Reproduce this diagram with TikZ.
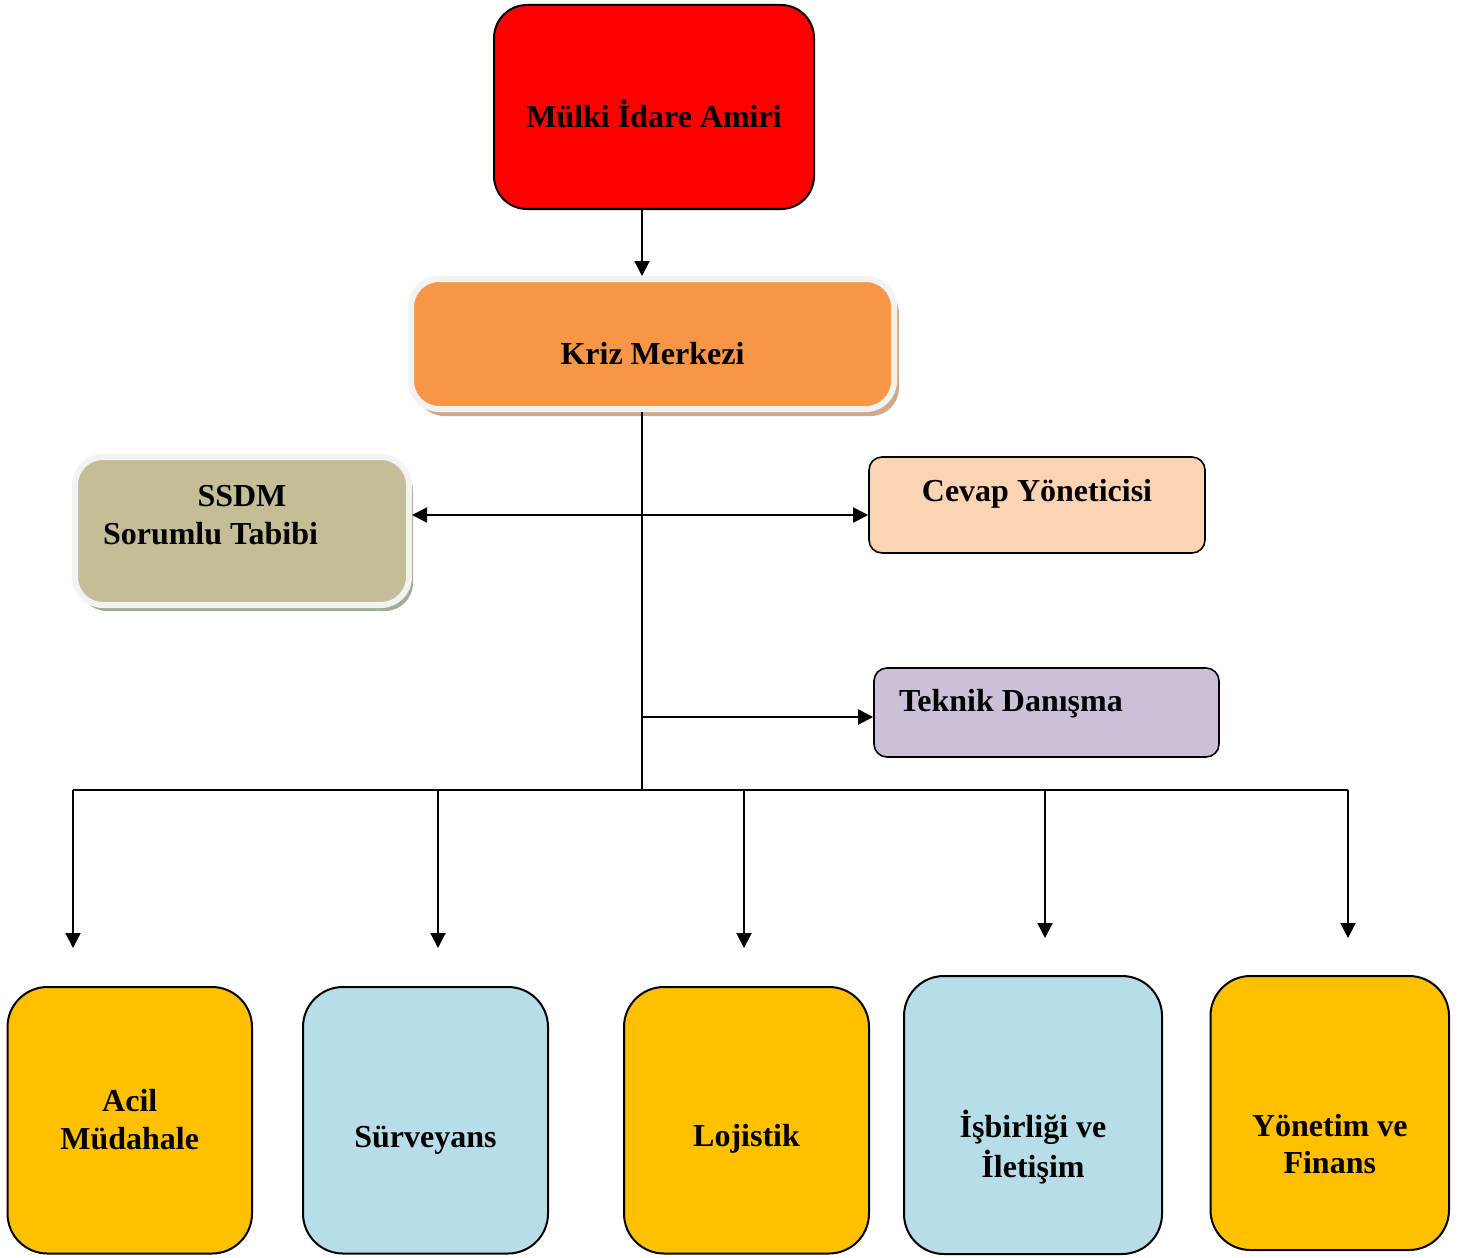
\documentclass[tikz,border=0pt]{standalone}
\usepackage{fontspec}
\setmainfont{Liberation Serif}
\usetikzlibrary{arrows.meta,shadows}

\definecolor{amirred}{HTML}{FF0000}
\definecolor{krizorange}{HTML}{F79646}
\definecolor{krizshadow}{HTML}{D3A888}
\definecolor{ssdmtan}{HTML}{C4BD97}
\definecolor{ssdmshadow}{HTML}{A3AE90}
\definecolor{framegray}{HTML}{F2F2F2}
\definecolor{cevappeach}{HTML}{FBD4B4}
\definecolor{teknikliliac}{HTML}{CCC0D9}
\definecolor{unitgold}{HTML}{FFC000}
\definecolor{unitblue}{HTML}{B7DDE8}

% text placed in a fixed box: width, height, baseline from top, text
\newcommand{\boxtext}[4]{%
  \parbox[c][#2][t]{#1}{\vspace*{\dimexpr#3-\ht\strutbox\relax}\centering\strut#4}}

\tikzset{
  card/.style={draw=black, line width=1pt, inner sep=0pt,
    font=\bfseries\fontsize{16}{18.8}\selectfont},
  amircard/.style={card, fill=amirred, rounded corners=16.5pt},
  framecard/.style={card, draw=framegray, line width=3pt, rounded corners=14pt},
  sidecard/.style={card, line width=0.8pt, rounded corners=6.5pt},
  unitcard/.style={card, rounded corners=20pt},
}

\begin{document}
\begin{tikzpicture}[x=0.5pt,y=-0.5pt,>={Triangle[length=7.5pt,width=7.5pt]}]
  \useasboundingbox (0,0) rectangle (1475,1257);

  % top of the chart
  \node[amircard] (mulki) at (654,107) {\boxtext{160pt}{102pt}{60.85pt}{Mülki İdare Amiri}};
  \node[framecard, fill=krizorange,
    drop shadow={shadow xshift=2.5pt, shadow yshift=-3.5pt, fill=krizshadow, opacity=1}]
    (kriz) at (652.5,344) {\boxtext{241.5pt}{65pt}{42.5pt}{Kriz Merkezi}};

  % side units
  \node[framecard, fill=ssdmtan,
    drop shadow={shadow xshift=2pt, shadow yshift=-3pt, fill=ssdmshadow, opacity=1}]
    (ssdm) at (242,531) {\boxtext{167pt}{74pt}{24.85pt}{SSDM\par\raggedright\hspace*{14pt}Sorumlu Tabibi}};
  \node[sidecard, fill=cevappeach] (cevap) at (1037,505) {\boxtext{168pt}{48pt}{22.35pt}{Cevap Yöneticisi}};
  \node[sidecard, fill=teknikliliac] (teknik) at (1046.5,712.5) {\boxtext{172.5pt}{44.5pt}{21.85pt}{\raggedright\hspace*{12.5pt}Teknik Danışma}};

  % working groups
  \node[unitcard, fill=unitgold] (acil) at (129.75,1120.25) {\boxtext{122.25pt}{133.25pt}{62.35pt}{Acil\\Müdahale}};
  \node[unitcard, fill=unitblue] (surv) at (425.5,1120.25) {\boxtext{122.5pt}{133.25pt}{80.15pt}{Sürveyans}};
  \node[unitcard, fill=unitgold] (loj) at (746.5,1120.25) {\boxtext{122.5pt}{133.25pt}{79.85pt}{Lojistik}};
  \node[unitcard, fill=unitblue] (isb) at (1033,1115) {\boxtext{129pt}{139pt}{80pt}{İşbirliği ve\\İletişim}};
  \node[unitcard, fill=unitgold] (yon) at (1329.75,1113) {\boxtext{119.25pt}{137pt}{80pt}{Yönetim ve\\Finans}};

  % connectors
  \coordinate (bus) at (642,790);
  \coordinate (side) at (642,515);
  \coordinate (tek) at (642,717);
  \begin{scope}[line width=1pt]
    \draw[->] (mulki.south -| bus) -- (kriz.north -| bus);
    \draw (kriz.south -| bus) -- (bus);
    \draw[<->] (ssdm.east |- side) -- (cevap.west |- side);
    \draw[->] (tek) -- (teknik.west |- tek);
    \foreach \n/\x/\y in {acil/73/948, surv/438/948, loj/744/948, isb/1045/938, yon/1348/938} {
      \coordinate (end-\n) at (\x,\y);
      \draw[->] (end-\n |- bus) -- (end-\n);
    }
    \draw (end-acil |- bus) -- (end-yon |- bus);
  \end{scope}
\end{tikzpicture}
\end{document}
